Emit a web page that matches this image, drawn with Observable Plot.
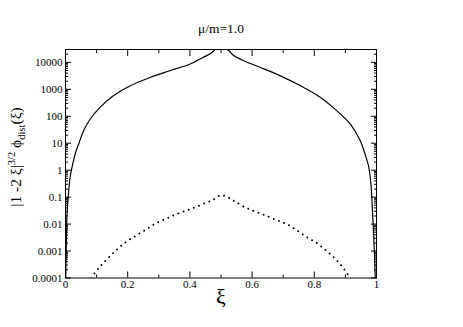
<!DOCTYPE html>
<html><head><meta charset="utf-8">
<script src="https://cdn.jsdelivr.net/npm/d3@7"></script>
<script src="https://cdn.jsdelivr.net/npm/@observablehq/plot@0.6"></script>
<style>body{margin:0;background:#fff}</style>
</head><body><div id="chart"></div>
<script>
const title = "μ/m=1.0";
const xLabel = "ξ";
// solid curve
const solidXi = [0.0008, 0.0023, 0.0045, 0.0096, 0.015, 0.0235, 0.0347, 0.042, 0.058, 0.079, 0.111, 0.154, 0.208, 0.272, 0.336, 0.401, 0.444, 0.471, 0.482, 0.5, 0.52, 0.541, 0.573, 0.627, 0.691, 0.756, 0.82, 0.873, 0.916, 0.948, 0.959, 0.97, 0.975, 0.982, 0.988, 0.993, 0.996];
const solidPhi = [0.0001, 0.00105, 0.018, 0.135, 0.56, 1.76, 5.5, 9.1, 28.8, 77.6, 214, 575, 1350, 2750, 4900, 8700, 15500, 23400, 30000, 30000, 30000, 17800, 11500, 6460, 3160, 1350, 500, 158, 51, 12.3, 5.5, 2.2, 1.32, 0.316, 0.018, 0.00105, 0.0001];
// dotted curve
const dotXi = [0.083, 0.106, 0.133, 0.16, 0.187, 0.219, 0.251, 0.283, 0.317, 0.353, 0.388, 0.422, 0.458, 0.476, 0.5, 0.525, 0.543, 0.576, 0.61, 0.645, 0.681, 0.715, 0.747, 0.779, 0.811, 0.842, 0.869, 0.894, 0.915];
const dotPhi = [0.0001, 0.000229, 0.00049, 0.001, 0.00186, 0.0033, 0.0055, 0.0095, 0.0145, 0.0224, 0.0316, 0.0447, 0.066, 0.081, 0.117, 0.095, 0.072, 0.0427, 0.0295, 0.0204, 0.0138, 0.0095, 0.0055, 0.0031, 0.00186, 0.00095, 0.00049, 0.000229, 0.0001];

const xMajor = [0, 0.2, 0.4, 0.6, 0.8, 1];
const xMajorLabels = ["0", "0.2", "0.4", "0.6", "0.8", "1"];
const xMinor = [0.1, 0.3, 0.5, 0.7, 0.9];
const yMajor = [0.0001, 0.001, 0.01, 0.1, 1, 10, 100, 1000, 10000];
const yMajorLabels = ["0.0001", "0.001", "0.01", "0.1", "1", "10", "100", "1000", "10000"];
const yMinorMult = [2, 3, 4, 5, 6, 7, 8, 9];

const yMinor = [];
for (const d of yMajor) for (const m of yMinorMult) if (m * d <= 30000) yMinor.push(m * d);

const solid = solidXi.map((x, i) => ({x, y: solidPhi[i]}));
const dots = dotXi.map((x, i) => ({x, y: dotPhi[i]}));

const chart = Plot.plot({
  width: 463, height: 327,
  marginLeft: 65, marginRight: 87, marginTop: 49, marginBottom: 49.5,
  style: {fontFamily: "Liberation Serif", fontSize: "11px", color: "black", background: "white"},
  x: {domain: [0, 1]},
  y: {type: "log", domain: [0.0001, 30000]},
  marks: [
    Plot.line(solid, {x: "x", y: "y", curve: "catmull-rom", clip: true, stroke: "black", strokeWidth: 1.2}),
    Plot.line(dots, {x: "x", y: "y", curve: "catmull-rom", clip: true, stroke: "black", strokeWidth: 2, strokeDasharray: "0,5.5", strokeLinecap: "round"}),
    Plot.axisY({ticks: yMajor, tickSize: 0, tickPadding: 3, label: null, tickFormat: d => yMajorLabels[yMajor.indexOf(d)]}),
    Plot.axisY({ticks: yMajor, tickSize: -6, fill: "none", label: null}),
    Plot.axisY({ticks: yMinor, tickSize: -3, fill: "none", label: null}),
    Plot.axisY({anchor: "right", ticks: yMajor, tickSize: -6, fill: "none", label: null}),
    Plot.axisY({anchor: "right", ticks: yMinor, tickSize: -3, fill: "none", label: null}),
    Plot.axisX({ticks: xMajor, tickSize: 0, tickPadding: 2, label: null, tickFormat: d => xMajorLabels[xMajor.indexOf(d)]}),
    Plot.axisX({ticks: xMajor, tickSize: -6, fill: "none", label: null}),
    Plot.axisX({ticks: xMinor, tickSize: -3, fill: "none", label: null}),
    Plot.axisX({anchor: "top", ticks: xMajor, tickSize: -6, fill: "none", label: null}),
    Plot.axisX({anchor: "top", ticks: xMinor, tickSize: -3, fill: "none", label: null}),
    Plot.frame({stroke: "black", strokeWidth: 1}),
    Plot.text([title], {frameAnchor: "top", dy: -26, fontSize: 13.5}),
    Plot.text([xLabel], {frameAnchor: "bottom", dy: 26, fontSize: 22})
  ]
});
document.getElementById("chart").appendChild(chart);

const t = d3.select(chart).append("text")
  .attr("transform", "translate(21,157) rotate(-90)")
  .attr("text-anchor", "middle")
  .attr("font-family", "Liberation Serif")
  .attr("font-size", 15.5)
  .attr("fill", "black");
t.append("tspan").text("|1 -2 ξ|");
t.append("tspan").attr("font-size", 10.5).attr("dy", -6).text("3/2");
t.append("tspan").attr("dy", 6).text(" ϕ");
t.append("tspan").attr("font-size", 10.5).attr("dy", 4).text("dist");
t.append("tspan").attr("dy", -4).text("(ξ)");
</script>
</body></html>
